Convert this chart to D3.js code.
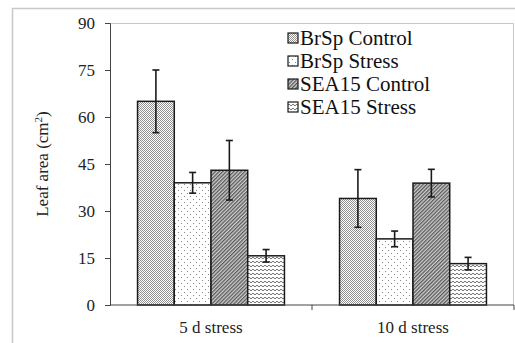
<!DOCTYPE html>
<html>
<head>
<meta charset="utf-8">
<script src="https://cdn.jsdelivr.net/npm/d3@7"></script>
<style>
	body { margin: 0; background: #fff; }
	svg { display: block; }
	svg text { font-family: "Liberation Serif", "DejaVu Serif", serif; }
</style>
</head>
<body>
<svg id="chart"></svg>
<script>
let groups = ["5 d stress", "10 d stress"];
let seriesNames = ["BrSp Control", "BrSp Stress", "SEA15 Control", "SEA15 Stress"];
let means = [
	[65, 39, 43, 15.7],
	[34, 21.1, 38.9, 13.2]
];
let errors = [
	[10, 3.3, 9.5, 2],
	[9.2, 2.5, 4.4, 2]
];
let yTicks = [0, 15, 30, 45, 60, 75, 90];

function makeChart() {
	let w = 515;
	let h = 343;
	let marginT = 23;
	let marginL = 110;
	let marginR = 1;
	let marginB = 38;
	let serif = '"Liberation Serif", "DejaVu Serif", serif';

	let chart = d3.select('#chart')
		.attr('width', w)
		.attr('height', h);

	let defs = chart.append('defs');

	// fill patterns
	let p0 = defs.append('pattern').attr('id', 'pat0')
		.attr('patternUnits', 'userSpaceOnUse').attr('width', 2).attr('height', 2);
	p0.append('rect').attr('width', 2).attr('height', 2).attr('fill', '#fff');
	p0.append('rect').attr('width', 1).attr('height', 1).attr('fill', '#909090');
	p0.append('rect').attr('x', 1).attr('y', 1).attr('width', 1).attr('height', 1).attr('fill', '#909090');

	let p1 = defs.append('pattern').attr('id', 'pat1')
		.attr('patternUnits', 'userSpaceOnUse').attr('width', 6).attr('height', 6);
	p1.append('rect').attr('width', 6).attr('height', 6).attr('fill', '#fff');
	p1.append('rect').attr('x', 1).attr('y', 1).attr('width', 1).attr('height', 1).attr('fill', '#888');
	p1.append('rect').attr('x', 4).attr('y', 4).attr('width', 1).attr('height', 1).attr('fill', '#888');

	let p2 = defs.append('pattern').attr('id', 'pat2')
		.attr('patternUnits', 'userSpaceOnUse').attr('width', 2.6).attr('height', 2.6)
		.attr('patternTransform', 'rotate(45)');
	p2.append('rect').attr('width', 2.6).attr('height', 2.6).attr('fill', '#cfcfcf');
	p2.append('rect').attr('width', 1.3).attr('height', 2.6).attr('fill', '#5a5a5a');

	let p3 = defs.append('pattern').attr('id', 'pat3')
		.attr('patternUnits', 'userSpaceOnUse').attr('width', 4).attr('height', 4);
	p3.append('rect').attr('width', 4).attr('height', 4).attr('fill', '#fff');
	p3.append('path').attr('d', 'M0,2 L1,1.2 L2,2 L3,2.8 L4,2')
		.attr('fill', 'none').attr('stroke', '#707070').attr('stroke-width', 1);

	let fills = ['url(#pat0)', 'url(#pat1)', 'url(#pat2)', 'url(#pat3)'];

	// outer chart frame
	chart.append('path')
		.attr('d', `M12.5,${h} L12.5,8.5 L${w},8.5`)
		.attr('fill', 'none').attr('stroke', '#c8c8c8').attr('stroke-width', 1.5);

	let xScale = d3.scaleBand()
		.domain(groups)
		.range([marginL, w - marginR]);

	let xSub = d3.scaleBand()
		.domain(seriesNames)
		.range([0, xScale.bandwidth()])
		.paddingOuter(0.75);

	let yScale = d3.scaleLinear()
		.domain([0, 90])
		.range([h - marginB, marginT]);

	// plot area frame (top, right)
	chart.append('path')
		.attr('d', `M${marginL},${marginT + 0.5} L${w - marginR - 0.5},${marginT + 0.5} L${w - marginR - 0.5},${h - marginB}`)
		.attr('fill', 'none').attr('stroke', '#c8c8c8').attr('stroke-width', 1);

	let rows = [];
	groups.forEach((g, gi) => {
		seriesNames.forEach((s, si) => {
			rows.push({ g: g, s: s, si: si, v: means[gi][si], e: errors[gi][si] });
		});
	});

	//draw bars
	chart.selectAll('.bar')
		.data(rows)
		.enter()
		.append('rect')
		.attr('class', 'bar')
		.attr('x', d => xScale(d.g) + xSub(d.s))
		.attr('y', d => yScale(d.v))
		.attr('width', xSub.bandwidth())
		.attr('height', d => yScale(0) - yScale(d.v))
		.attr('fill', d => fills[d.si])
		.attr('stroke', '#1a1a1a')
		.attr('stroke-width', 1.5);

	//error bars
	let eb = chart.selectAll('.err')
		.data(rows)
		.enter()
		.append('g')
		.attr('class', 'err')
		.attr('stroke', '#1a1a1a')
		.attr('stroke-width', 1.6);
	let cx = d => xScale(d.g) + xSub(d.s) + xSub.bandwidth() / 2;
	eb.append('line')
		.attr('x1', cx).attr('x2', cx)
		.attr('y1', d => yScale(d.v + d.e)).attr('y2', d => yScale(d.v - d.e));
	eb.append('line')
		.attr('x1', d => cx(d) - 3.5).attr('x2', d => cx(d) + 3.5)
		.attr('y1', d => yScale(d.v + d.e)).attr('y2', d => yScale(d.v + d.e));
	eb.append('line')
		.attr('x1', d => cx(d) - 3.5).attr('x2', d => cx(d) + 3.5)
		.attr('y1', d => yScale(d.v - d.e)).attr('y2', d => yScale(d.v - d.e));

	//AXES
	let yAxis = d3.axisLeft(yScale).tickValues(yTicks).tickSize(5).tickPadding(10);
	let yg = chart.append('g')
		.attr('transform', `translate(${marginL}, 0)`)
		.call(yAxis);
	yg.select('.domain').attr('stroke', '#444');
	yg.selectAll('.tick line').attr('stroke', '#444');
	yg.selectAll('text')
		.attr('font-family', serif)
		.attr('font-size', 17)
		.attr('fill', '#222');

	let xg = chart.append('g')
		.attr('transform', `translate(0, ${h - marginB})`);
	xg.append('line')
		.attr('x1', marginL).attr('x2', w - marginR)
		.attr('stroke', '#444');
	xg.selectAll('.xtick')
		.data(groups)
		.enter()
		.append('line')
		.attr('class', 'xtick')
		.attr('x1', d => xScale(d) + xScale.bandwidth())
		.attr('x2', d => xScale(d) + xScale.bandwidth())
		.attr('y1', 0).attr('y2', 5)
		.attr('stroke', '#444');
	xg.selectAll('.xlab')
		.data(groups)
		.enter()
		.append('text')
		.attr('class', 'xlab')
		.attr('x', d => xScale(d) + xScale.bandwidth() / 2)
		.attr('y', 28)
		.attr('text-anchor', 'middle')
		.attr('font-family', serif)
		.attr('font-size', 17)
		.attr('fill', '#222')
		.text(d => d);

	//y-axis label
	let yl = chart.append('text')
		.attr('transform', `translate(48, ${yScale(45)}) rotate(-90)`)
		.attr('text-anchor', 'middle')
		.attr('font-family', serif)
		.attr('font-size', 17)
		.attr('fill', '#222');
	yl.append('tspan').text('Leaf area (cm');
	yl.append('tspan').attr('font-size', 11).attr('dy', -6).text('2');
	yl.append('tspan').attr('dy', 6).text(')');

	//legend
	let leg = chart.selectAll('.leg')
		.data(seriesNames)
		.enter()
		.append('g')
		.attr('class', 'leg')
		.attr('transform', (d, i) => `translate(288, ${38 + i * 23})`);
	leg.append('rect')
		.attr('x', 0).attr('y', -5)
		.attr('width', 10).attr('height', 10)
		.attr('fill', (d, i) => fills[i])
		.attr('stroke', '#1a1a1a')
		.attr('stroke-width', 1.2);
	leg.append('text')
		.attr('x', 12)
		.attr('y', 7)
		.attr('font-family', serif)
		.attr('font-size', 21)
		.attr('fill', '#111')
		.text(d => d);
}

window.onload = function () {
	makeChart();
}
</script>
</body>
</html>
